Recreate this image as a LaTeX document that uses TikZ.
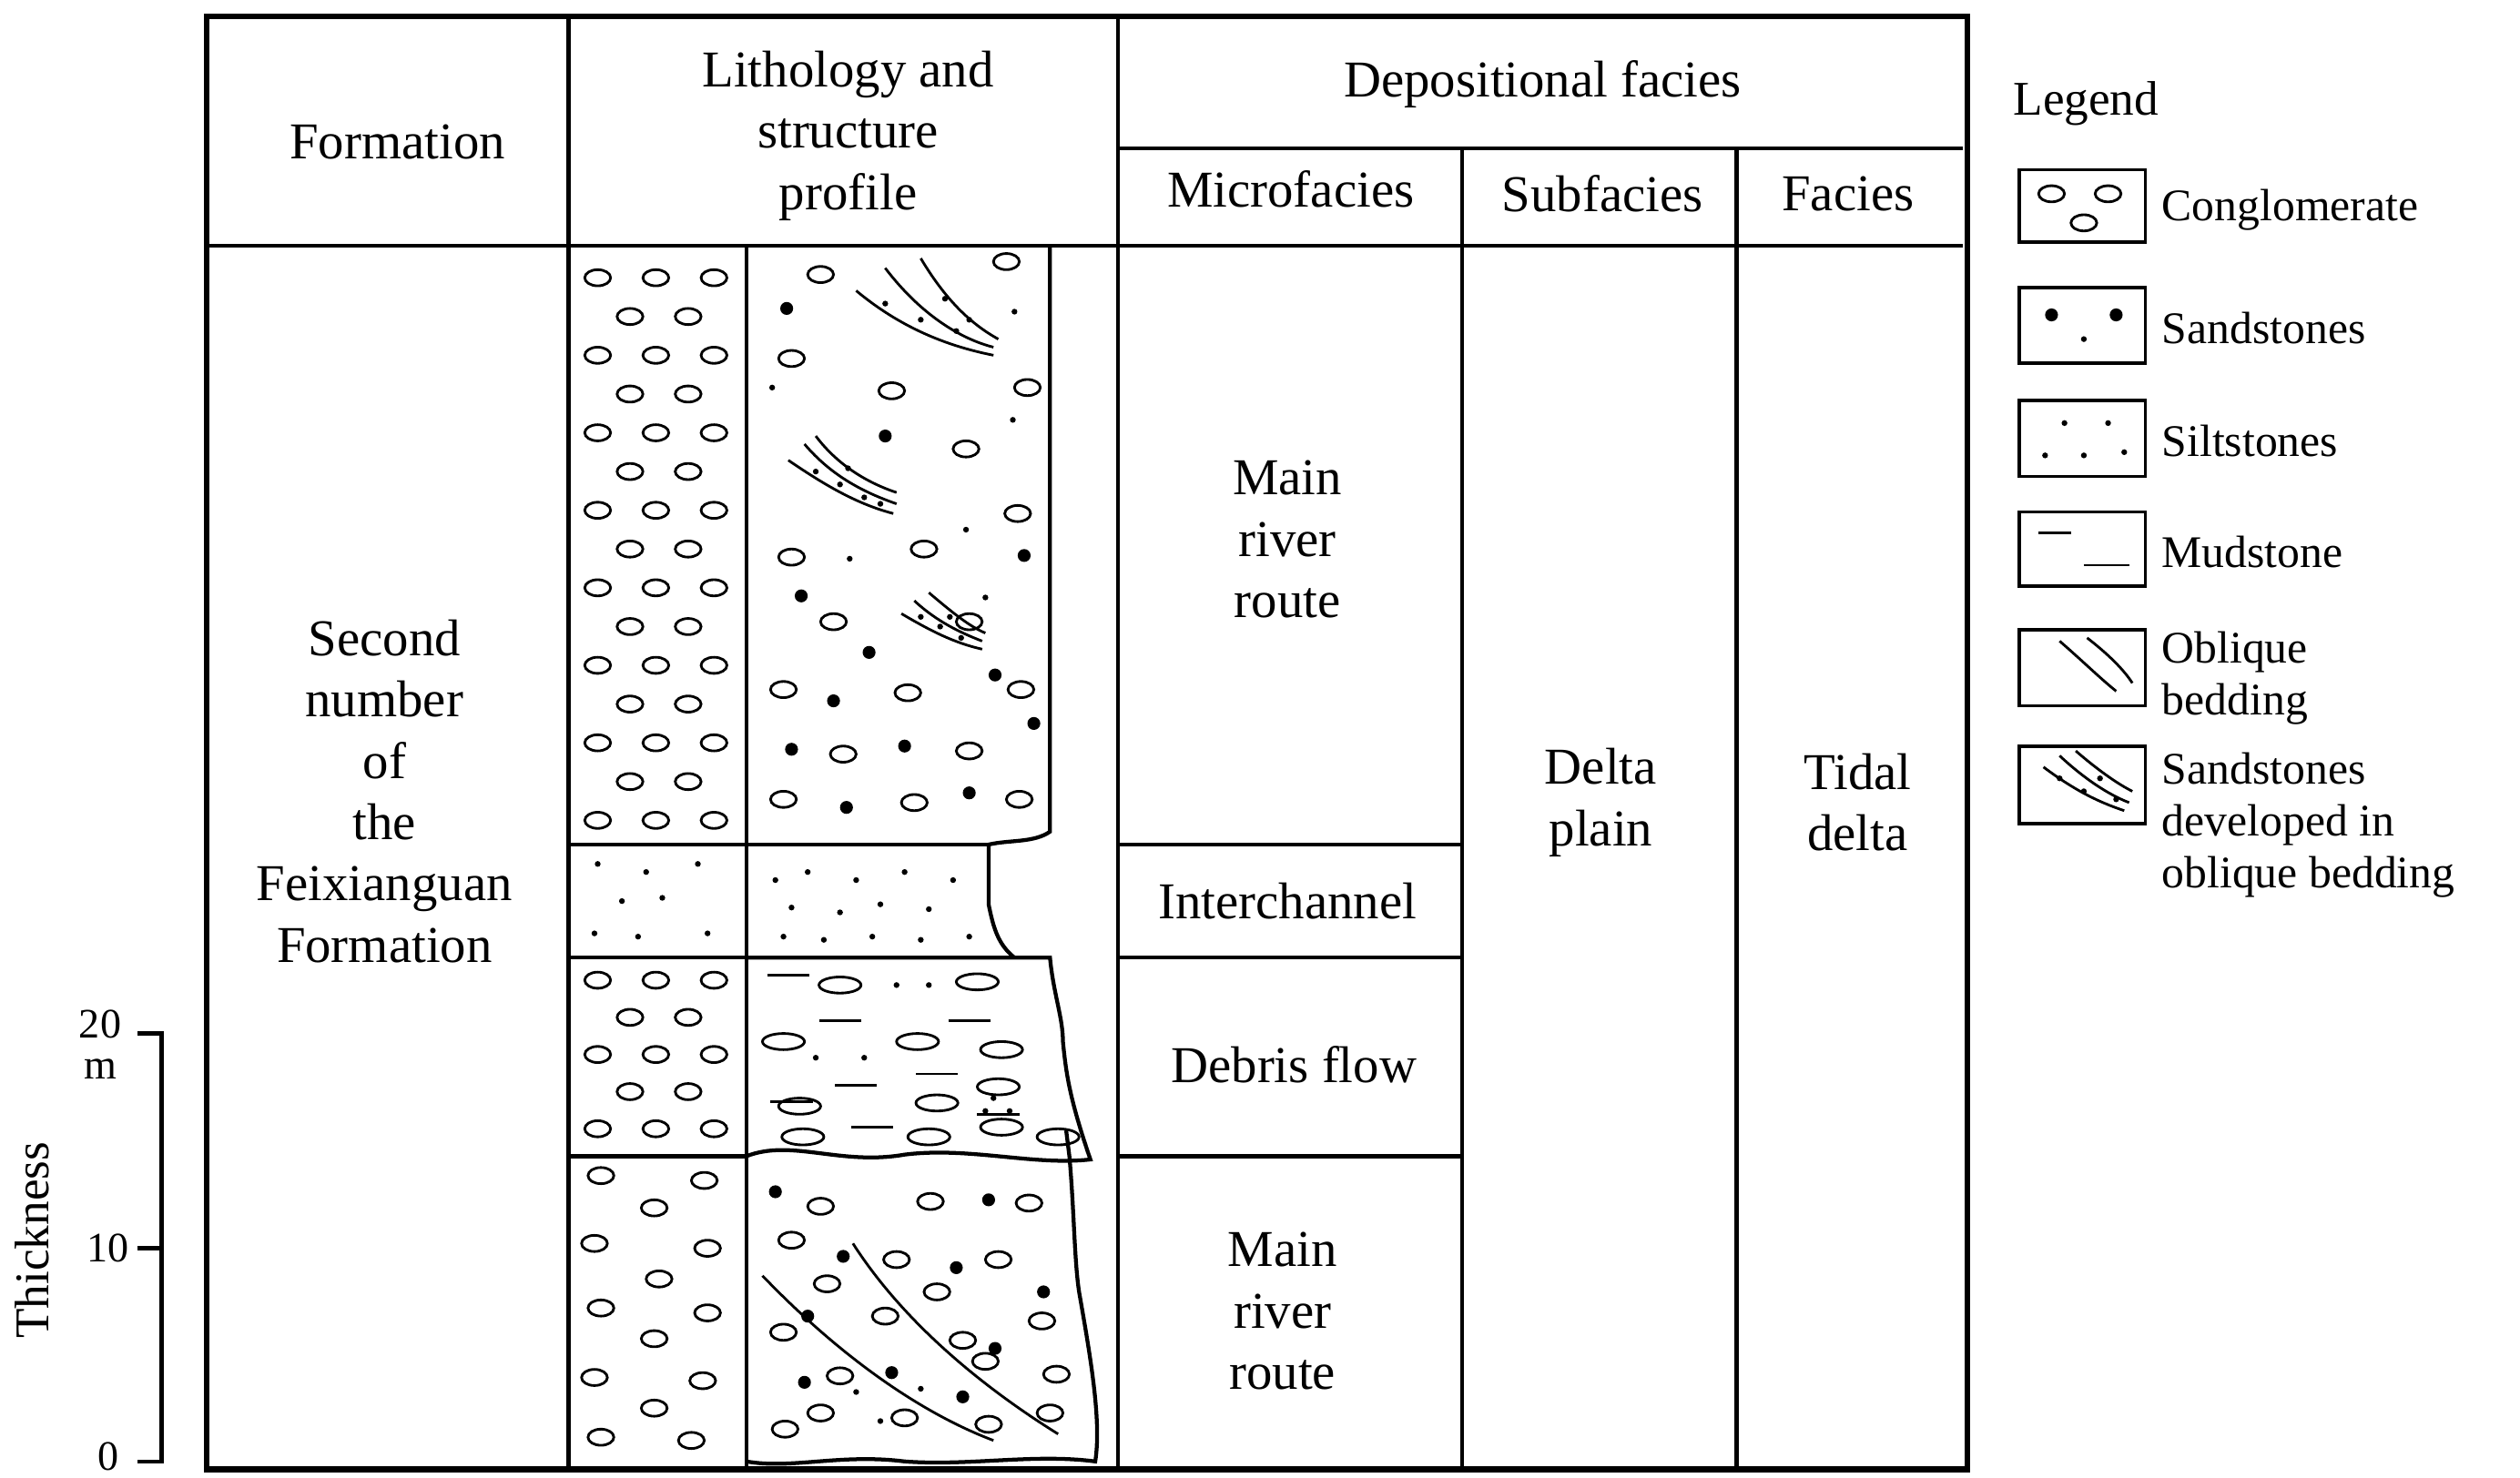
\documentclass[tikz,border=0pt]{standalone}
\usepackage{fontspec}
\setmainfont{Liberation Serif}
\begin{document}
\begin{tikzpicture}[x=0.5pt,y=-0.5pt,
 frame/.style={line width=1.2pt},
 thin/.style={line width=0.8pt},
 lbl/.style={font=\fontsize{16}{19}\selectfont,align=center,inner sep=0pt},
 leg/.style={font=\fontsize{14}{16}\selectfont,align=left,anchor=west,inner sep=0pt},
 ell/.style={thin}, dt/.style={fill=black}]
\useasboundingbox (0,0) rectangle (1560,915);
% frame
\draw[line width=1.8pt] (128,10) rectangle (1218,910);
\draw[frame] (128,152)--(1215,152);
\draw[frame] (692,92)--(1215,92);
\draw[frame] (352,10)--(352,908);
\draw[frame] (692,10)--(692,908);
\draw[frame] (905,92)--(905,908);
\draw[frame] (1075,92)--(1075,908);
\draw[frame] (462,152)--(462,908);
% row lines
\draw[frame] (352,523)--(612,523) (692,523)--(905,523);
\draw[frame] (352,593)--(628,593) (692,593)--(905,593);
\draw[frame] (352,716)--(462,716) (692,716)--(905,716);
% irregular right edges
\draw[frame] (650,152)--(650,515) .. controls (640,522) and (625,520) .. (612,523) -- (612,560) .. controls (615,575) and (618,585) .. (628,593);
\draw[frame] (462,593)--(650,593) .. controls (652,615) and (658,630) .. (658,645) .. controls (660,665) and (662,680) .. (675,718) .. controls (640,722) and (600,710) .. (560,715) .. controls (520,722) and (490,705) .. (462,716);
\draw[frame] (660,700) -- (662,716) .. controls (665,750) and (665,780) .. (668,800) .. controls (675,840) and (682,880) .. (678,905) .. controls (640,900) and (600,908) .. (560,905) .. controls (520,900) and (490,910) .. (462,905);
% headers
\node[lbl] (hf) at (246,88) {Formation};
\node[lbl] (hl) at (525,84) {Lithology and\\structure\\profile};
\node[lbl] (hd) at (955,52) {Depositional facies};
\node[lbl] (hm) at (799,117) {Microfacies};
\node[lbl] (hs) at (992,120) {Subfacies};
\node[lbl] (hfa) at (1144,120) {Facies};
\node[lbl] (form) at (238,490) {Second\\number\\of\\the\\Feixianguan\\Formation};
\node[lbl] (m1) at (797,334) {Main\\river\\route};
\node[lbl] (ic) at (797,558) {Interchannel};
\node[lbl] (df) at (801,659) {Debris flow};
\node[lbl] (m2) at (794,812) {Main\\river\\route};
\node[lbl] (dp) at (991,497) {Delta\\plain};
\node[lbl] (td) at (1150,497) {Tidal\\delta};
% scale
\draw[frame] (85,640)--(100,640)--(100,905)--(85,905) (85,773)--(100,773);
\node[lbl,font=\fontsize{13}{12}\selectfont] (s20) at (62,634) {20};
\node[lbl,font=\fontsize{13}{12}\selectfont] (sm) at (62,662) {m};
\node[lbl,font=\fontsize{13}{12}\selectfont] (s10) at (67,773) {10};
\node[lbl,font=\fontsize{13}{12}\selectfont] (s0) at (67,902) {0};
\node[lbl,font=\fontsize{15}{12}\selectfont,rotate=90] (th) at (20,768) {Thickness};
% conglomerate left upper
\foreach \y in {172,220,268,316,364,412,460,508}{\foreach \x in {370,406,442}{\draw[ell] (\x,\y) ellipse (8 and 5);}}
\foreach \y in {196,244,292,340,388,436,484}{\foreach \x in {390,426}{\draw[ell] (\x,\y) ellipse (8 and 5);}}
% interchannel dots
\foreach \x/\y in {370/535, 400/540, 432/535, 385/558, 410/556, 368/578, 395/580, 438/578, 480/545, 500/540, 530/545, 560/540, 590/545, 490/562, 520/565, 545/560, 575/563, 485/580, 510/582, 540/580, 570/582, 600/580}{\fill (\x,\y) circle (1.8);}
% debris left
\foreach \y in {607,653,699}{\foreach \x in {370,406,442}{\draw[ell] (\x,\y) ellipse (8 and 5);}}
\foreach \y in {630,676}{\foreach \x in {390,426}{\draw[ell] (\x,\y) ellipse (8 and 5);}}
% debris right
\foreach \x/\y in {520/610, 605/608, 568/645, 620/650, 485/645, 580/683, 495/685, 618/673, 620/698, 497/704, 575/704, 655/704}{\draw[ell] (\x,\y) ellipse (13 and 5);}
\foreach \x/\y in {488/604, 520/632, 600/632, 490/682, 540/698, 580/665, 530/672, 618/690}{\draw[thin] (\x-13,\y)--(\x+13,\y);}
\foreach \x/\y in {555/610, 575/610, 505/655, 535/655, 610/688, 625/688, 615/680}{\fill (\x,\y) circle (1.8);}
% bottom left
\foreach \x/\y in {372/728, 436/731, 405/748, 368/770, 438/773, 408/792, 372/810, 438/813, 405/829, 368/853, 435/855, 405/872, 372/890, 428/892}{\draw[ell] (\x,\y) ellipse (8 and 5);}
% bottom right
\foreach \x/\y in {508/747, 576/744, 637/745, 490/768, 555/780, 618/780, 512/795, 580/800, 645/818, 548/815, 596/830, 485/825, 520/852, 610/843, 654/851, 508/875, 560/878, 612/882, 486/885, 650/875}{\draw[ell] (\x,\y) ellipse (8 and 5);}
\foreach \x/\y in {480/738, 612/743, 522/778, 592/785, 646/800, 500/815, 616/835, 498/856, 596/865, 552/850}{\fill (\x,\y) circle (4);}
\foreach \x/\y in {530/862, 545/880, 570/860}{\fill (\x,\y) circle (1.8);}
\draw[thin] (472,790) .. controls (520,840) and (570,875) .. (615,892);
\draw[thin] (528,770) .. controls (560,820) and (610,860) .. (655,888);
% top right
\foreach \x/\y in {623/162, 508/170, 490/222, 636/240, 552/242, 598/278, 630/318, 572/340, 490/345, 516/385, 600/385, 485/427, 562/429, 632/427, 522/467, 600/465, 485/495, 566/497, 631/495}{\draw[ell] (\x,\y) ellipse (8 and 5);}
\foreach \x/\y in {487/191, 548/270, 634/344, 496/369, 538/404, 616/418, 640/448, 516/434, 490/464, 560/462, 524/500, 600/491}{\fill (\x,\y) circle (4);}
\foreach \x/\y in {628/193, 478/240, 627/260, 598/328, 526/346, 610/370}{\fill (\x,\y) circle (1.8);}
% oblique bedding sets (top)
\draw[thin] (530,180) .. controls (560,205) and (590,215) .. (615,220);
\draw[thin] (548,166) .. controls (570,195) and (595,210) .. (615,215);
\draw[thin] (570,160) .. controls (585,185) and (600,200) .. (618,210);
\foreach \x/\y in {548/188, 570/198, 592/205, 585/185, 600/198}{\fill (\x,\y) circle (1.8);}
\draw[thin] (488,285) .. controls (510,300) and (530,312) .. (553,318);
\draw[thin] (498,275) .. controls (515,295) and (535,305) .. (555,312);
\draw[thin] (505,270) .. controls (520,290) and (540,300) .. (555,305);
\foreach \x/\y in {505/292, 520/300, 535/308, 545/312, 525/290}{\fill (\x,\y) circle (1.8);}
\draw[thin] (558,380) .. controls (575,390) and (590,398) .. (608,402);
\draw[thin] (566,372) .. controls (580,385) and (595,392) .. (608,397);
\draw[thin] (575,367) .. controls (588,378) and (600,388) .. (610,392);
\foreach \x/\y in {570/382, 582/388, 595/395, 588/382}{\fill (\x,\y) circle (1.8);}
% legend
\node[leg,font=\fontsize{15}{16}\selectfont] (lg) at (1246,64) {Legend};
\draw[line width=1pt] (1250,105) rectangle (1328,150) (1250,178) rectangle (1328,225) (1250,248) rectangle (1328,295) (1250,317) rectangle (1328,363) (1250,390) rectangle (1328,437) (1250,462) rectangle (1328,510);
\draw[ell] (1270,120) ellipse (8 and 5) (1305,120) ellipse (8 and 5) (1290,138) ellipse (8 and 5);
\fill (1270,195) circle (4) (1310,195) circle (4) (1290,210) circle (1.8);
\fill (1278,262) circle (1.8) (1305,262) circle (1.8) (1266,282) circle (1.8) (1290,282) circle (1.8) (1315,280) circle (1.8);
\draw[thin] (1262,330)--(1282,330) (1290,350)--(1318,350);
\draw[thin] (1275,397) .. controls (1290,410) and (1300,420) .. (1310,428);
\draw[thin] (1292,395) .. controls (1305,405) and (1315,415) .. (1320,423);
\draw[thin] (1265,475) .. controls (1285,490) and (1300,497) .. (1315,502);
\draw[thin] (1275,468) .. controls (1290,482) and (1305,492) .. (1318,497);
\draw[thin] (1285,465) .. controls (1300,478) and (1312,486) .. (1320,490);
\foreach \x/\y in {1275/482, 1290/490, 1300/482, 1310/495}{\fill (\x,\y) circle (1.8);}
\node[leg] (l1) at (1338,130) {Conglomerate};
\node[leg] (l2) at (1338,203) {Sandstones};
\node[leg] (l3) at (1338,273) {Siltstones};
\node[leg] (l4) at (1338,342) {Mudstone};
\node[leg] (l5) at (1338,420) {Oblique\\bedding};
\node[leg] (l6) at (1338,511) {Sandstones\\developed in\\oblique bedding};
\end{tikzpicture}
\end{document}
